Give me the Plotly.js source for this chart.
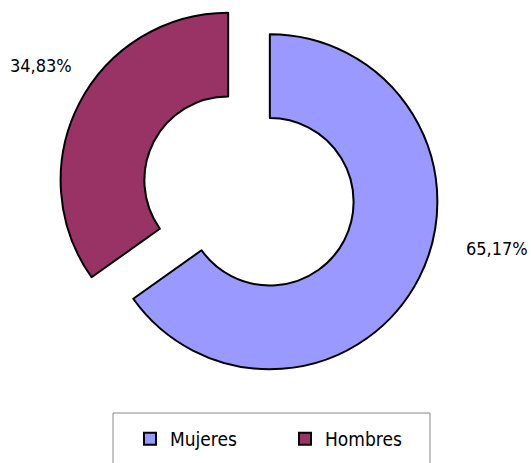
<!DOCTYPE html>
<html>
<head>
<meta charset="utf-8">
<script src="https://cdn.plot.ly/plotly-3.0.1.min.js"></script>
<style>html,body{margin:0;padding:0;background:#fff;}#chart{width:531px;height:463px;}</style>
</head>
<body>
<div id="chart"></div>
<script>
const categories = ["Mujeres", "Hombres"];
const values = [65.17, 34.83];
const colors = ["#9999FF", "#993366"];

const FONT = "'DejaVu Sans Condensed', 'Liberation Sans Narrow', sans-serif";
const total = values.reduce((a, b) => a + b, 0);
const pctText = values.map(v => (v / total * 100).toFixed(2).replace('.', ',') + '%');

const trace = {
  type: 'pie',
  labels: categories,
  values: values,
  hole: 0.5,
  sort: false,
  direction: 'clockwise',
  rotation: 0,
  pull: [0.14, 0.14],
  textinfo: 'none',
  hoverinfo: 'none',
  marker: { colors: colors, line: { color: '#000000', width: 2 } },
  domain: { x: [58 / 531, 440 / 531], y: [0.175, 1] }
};

const layout = {
  width: 531,
  height: 463,
  margin: { l: 0, r: 0, t: 0, b: 0 },
  paper_bgcolor: '#ffffff',
  plot_bgcolor: '#ffffff',
  showlegend: true,
  legend: {
    orientation: 'h',
    x: 130 / 531, xanchor: 'left',
    y: 1 - 439 / 463, yanchor: 'middle',
    font: { family: FONT, size: 19, color: '#000000' },
    entrywidth: 110,
    entrywidthmode: 'pixels',
    traceorder: 'normal',
    bgcolor: 'rgba(0,0,0,0)'
  },
  shapes: [{
    type: 'rect', xref: 'paper', yref: 'paper',
    x0: 113 / 531, x1: 430 / 531, y0: -0.01, y1: (463 - 413) / 463,
    line: { color: '#888888', width: 1 }, fillcolor: 'rgba(0,0,0,0)'
  }],
  annotations: [
    { text: pctText[0], xref: 'paper', yref: 'paper', x: 497 / 531, y: 1 - 248 / 463,
      xanchor: 'center', yanchor: 'middle', showarrow: false,
      font: { family: FONT, size: 18, color: '#000000' } },
    { text: pctText[1], xref: 'paper', yref: 'paper', x: 41 / 531, y: 1 - 66 / 463,
      xanchor: 'center', yanchor: 'middle', showarrow: false,
      font: { family: FONT, size: 18, color: '#000000' } }
  ]
};

Plotly.newPlot('chart', [trace], layout, { displayModeBar: false, staticPlot: true });
</script>
</body>
</html>
